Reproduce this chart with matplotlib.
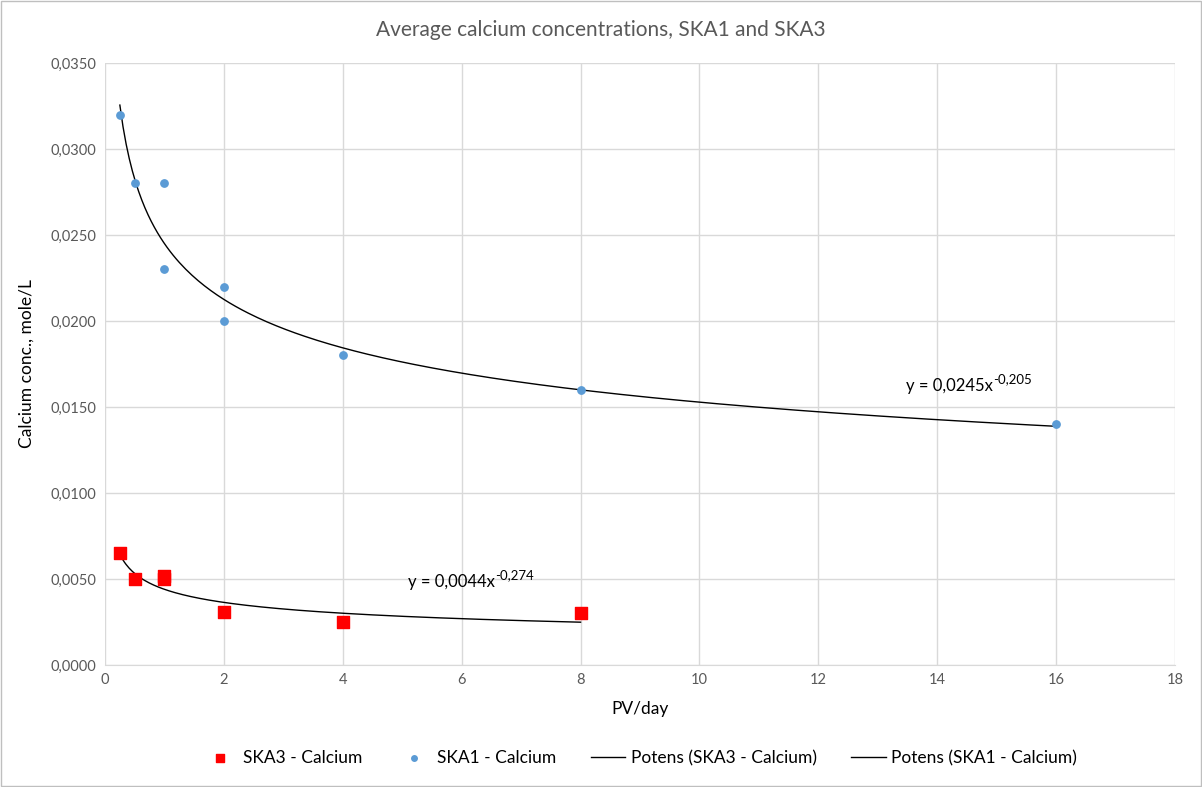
import matplotlib.pyplot as plt
import numpy as np
from matplotlib.ticker import FuncFormatter, MultipleLocator

plt.rcParams['font.family'] = ['Lato', 'DejaVu Sans']

# measured data
ska1_x = [0.25, 0.5, 1, 1, 2, 2, 4, 8, 16]
ska1_y = [0.0320, 0.0280, 0.0280, 0.0230, 0.0220, 0.0200, 0.0180, 0.0160, 0.0140]
ska3_x = [0.25, 0.5, 1, 1, 2, 4, 8]
ska3_y = [0.0065, 0.0050, 0.0050, 0.0052, 0.0031, 0.0025, 0.0030]

# power trendline coefficients (y = a * x^b)
ska1_a, ska1_b = 0.0245, -0.205
ska3_a, ska3_b = 0.0044, -0.274

grey = '#595959'
grid = '#d9d9d9'


def comma(v, digits):
    return f'{v:.{digits}f}'.replace('.', ',')


fig = plt.figure(figsize=(12.02, 7.87), dpi=100)
ax = fig.add_axes([105 / 1202, 1 - 665 / 787, 1070 / 1202, 602 / 787])

ax.scatter(ska3_x, ska3_y, marker='s', s=70, color='#ff0000', zorder=3, label='SKA3 - Calcium')
ax.scatter(ska1_x, ska1_y, marker='o', s=28, color='#5b9bd5', zorder=3, label='SKA1 - Calcium')

x3 = np.linspace(min(ska3_x), max(ska3_x), 300)
x1 = np.linspace(min(ska1_x), max(ska1_x), 300)
ax.plot(x3, ska3_a * x3 ** ska3_b, color='black', lw=1, zorder=2, label='Potens (SKA3 - Calcium)')
ax.plot(x1, ska1_a * x1 ** ska1_b, color='black', lw=1, zorder=2, label='Potens (SKA1 - Calcium)')

# trendline equations, exponent as a small raised label
for (tx, ty), a, b in [((13.48, 0.01595), ska1_a, ska1_b), ((5.1, 0.00455), ska3_a, ska3_b)]:
    t = ax.text(tx, ty, f'y = {comma(a, 4)}x', fontsize=12, color='black')
    ax.annotate(comma(b, 3), xy=(1, 0.55), xycoords=t, fontsize=9.5,
                ha='left', va='bottom', color='black')

ax.set_xlim(0, 18)
ax.set_ylim(0, 0.035)
ax.xaxis.set_major_locator(MultipleLocator(2))
ax.yaxis.set_major_locator(MultipleLocator(0.005))
ax.yaxis.set_major_formatter(FuncFormatter(lambda v, p: comma(v, 4)))
ax.grid(True, color=grid, lw=1)
ax.set_axisbelow(True)
for s in ['top', 'right', 'left']:
    ax.spines[s].set_visible(False)
ax.spines['bottom'].set_color(grid)
ax.tick_params(length=0, labelsize=10.5, colors=grey, pad=6)

ax.set_xlabel('PV/day', fontsize=12.5, color='black', labelpad=10)
ax.set_ylabel('Calcium conc., mole/L', fontsize=12.5, color='black', labelpad=12)
fig.text(0.5, 1 - 30 / 787, 'Average calcium concentrations, SKA1 and SKA3',
         fontsize=15, color=grey, ha='center', va='center')

ax.legend(loc='upper center', bbox_to_anchor=(0.5, -0.115), ncol=4, frameon=False,
          fontsize=12.5, handlelength=2, columnspacing=2.0, handletextpad=0.3,
          markerscale=0.75)

# chart border
fig.patches.append(plt.Rectangle((0.001, 0.001), 0.998, 0.998, transform=fig.transFigure,
                                 fill=False, edgecolor='#bfbfbf', lw=1))

fig.savefig('out.png', dpi=100)
